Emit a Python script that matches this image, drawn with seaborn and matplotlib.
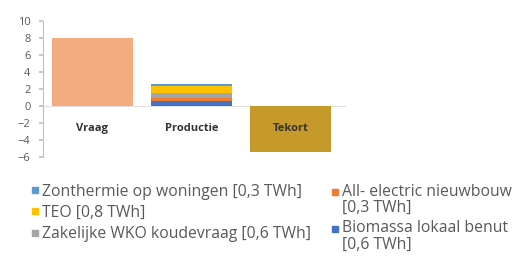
import seaborn as sns
import pandas as pd
import matplotlib.pyplot as plt
import numpy as np
from matplotlib.lines import Line2D
from matplotlib.legend_handler import HandlerLine2D

categories = ["Vraag", "Productie", "Tekort"]
vraag = 8.0
tekort = -5.4
# productie stack, bottom to top
prod_labels = ["Biomassa lokaal benut\n[0,6 TWh]", "All- electric nieuwbouw\n[0,3 TWh]",
               "Zakelijke WKO koudevraag [0,6 TWh]", "TEO [0,8 TWh]", "Zonthermie op woningen [0,3 TWh]"]
prod_values = [0.6, 0.3, 0.6, 0.8, 0.3]
prod_colors = ["#4472C4", "#ED7D31", "#A5A5A5", "#FFC000", "#5B9BD5"]
legend_cols = [[4, 3, 2], [1, 0]]
y_ticks = [10, 8, 6, 4, 2, 0, -2, -4, -6]


class FirstLineHandler(HandlerLine2D):
    # put the marker next to the first line of a two-line label
    def __init__(self, dy, **kw):
        super().__init__(**kw)
        self.dy = dy

    def create_artists(self, legend, orig_handle, xdescent, ydescent, width, height, fontsize, trans):
        return super().create_artists(legend, orig_handle, xdescent, ydescent - 2 * self.dy * fontsize,
                                      width, height, fontsize, trans)


sns.set_theme(style="white")
plt.rcParams['font.family'] = ['Open Sans', 'DejaVu Sans']

fig = plt.figure(figsize=(5.17, 2.62), dpi=100)
ax = fig.add_axes([0.083, 0.401, 0.584, 0.519])

w = 0.82
sns.barplot(x=["Vraag"], y=[vraag], order=categories, color="#F5AB80", width=w, ax=ax,
            saturation=1, edgecolor="none")
sns.barplot(x=["Tekort"], y=[tekort], order=categories, color="#C59A2A", width=w, ax=ax,
            saturation=1, edgecolor="none")
cum = np.cumsum(prod_values)
for i in range(len(prod_values) - 1, -1, -1):
    sns.barplot(x=["Productie"], y=[cum[i]], order=categories, color=prod_colors[i], width=w,
                ax=ax, saturation=1, edgecolor="none")

ax.set_axisbelow(False)
ax.set_ylim(-6, 10)
ax.set_xlim(-0.5, 2.55)
ax.set_yticks(y_ticks)
ax.set_xlabel("")
ax.set_ylabel("")
for s in ["top", "right"]:
    ax.spines[s].set_visible(False)
ax.spines["left"].set_color("#BFBFBF")
ax.spines["left"].set_linewidth(0.8)
ax.spines["bottom"].set_position(("data", 0))
ax.spines["bottom"].set_color("#E0E0E0")
ax.spines["bottom"].set_linewidth(0.8)
ax.spines["bottom"].set_zorder(0.5)
ax.tick_params(axis="y", left=True, length=3, color="#BFBFBF", labelsize=8, labelcolor="#595959", pad=6)
ax.tick_params(axis="x", bottom=False, labelsize=8, labelcolor="#333333", pad=6)
for t in ax.get_xticklabels():
    t.set_fontweight("bold")

legend_x = [0.060, 0.640]
legend_spacing = [0.33, 0.3]
for col, x0, lsp in zip(legend_cols, legend_x, legend_spacing):
    handles = [Line2D([], [], marker="s", linestyle="none", markersize=4.5, color=prod_colors[i]) for i in col]
    labels = [prod_labels[i] for i in col]
    hmap = {h: FirstLineHandler(0.52) for h, lab in zip(handles, labels) if "\n" in lab}
    leg = fig.legend(handles, labels, loc="upper left", bbox_to_anchor=(x0, 0.299),
                     frameon=False, fontsize=11.3, labelspacing=lsp, handlelength=0.5,
                     handletextpad=0.2, borderaxespad=0, borderpad=0, handler_map=hmap)
    for t in leg.get_texts():
        t.set_color("#595959")
        t.set_linespacing(1.0)

fig.savefig("out.png", dpi=100, facecolor="white")
